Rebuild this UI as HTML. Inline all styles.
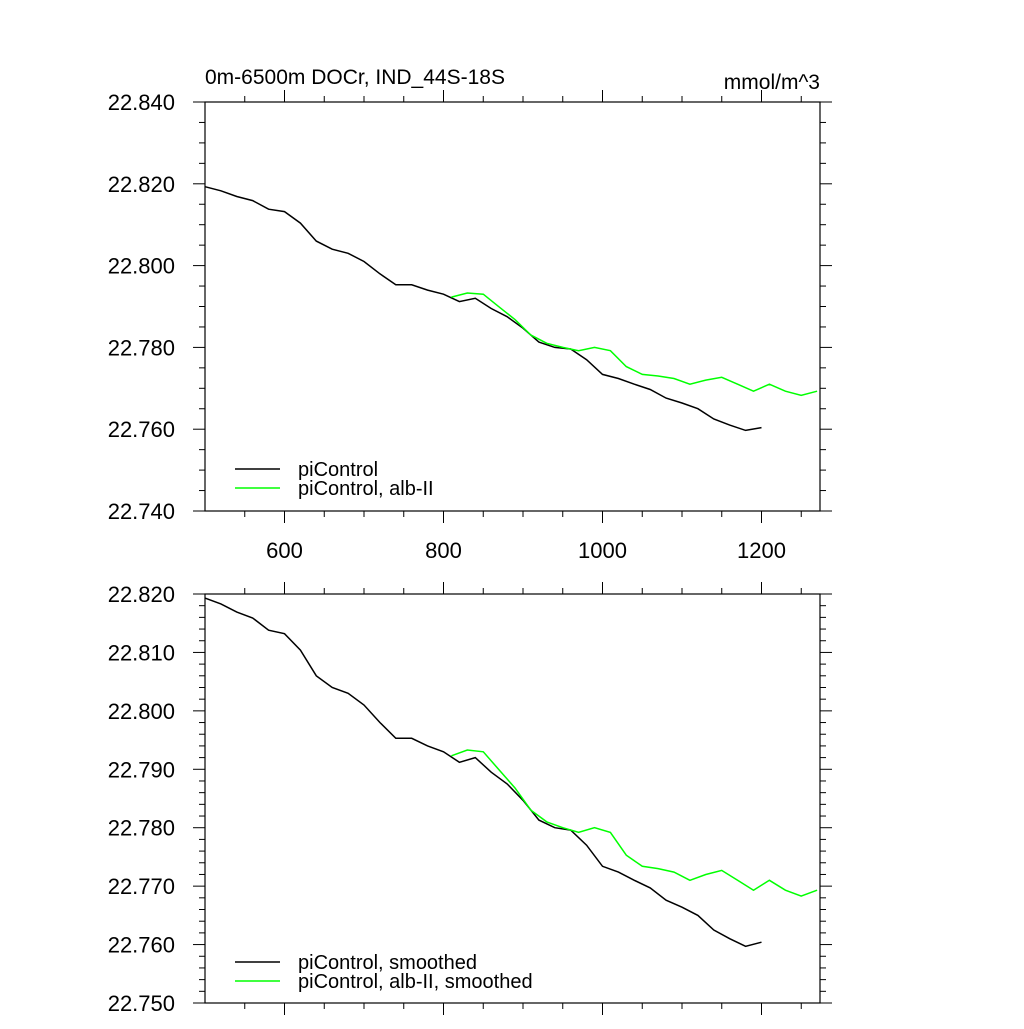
<!DOCTYPE html>
<html><head><meta charset="utf-8"><style>
body{margin:0;background:#fff;width:1024px;height:1024px;overflow:hidden}
svg{font-family:"Liberation Sans",sans-serif}
</style></head><body>
<svg id="chart" width="1024" height="1024" xmlns="http://www.w3.org/2000/svg">
<text x="205" y="84" font-size="21">0m-6500m DOCr, IND_44S-18S</text>
<text x="820" y="89" font-size="21" text-anchor="end">mmol/m^3</text>
</svg>
<script>
const blackYears=[500,520,540,560,580,600,620,640,660,680,700,720,740,760,780,800,820,840,860,880,900,920,940,960,980,1000,1020,1040,1060,1080,1100,1120,1140,1160,1180,1200];
const blackVals=[22.8193,22.8183,22.8169,22.8159,22.8138,22.8132,22.8104,22.806,22.804,22.803,22.801,22.798,22.7953,22.7953,22.794,22.793,22.7912,22.792,22.7895,22.7875,22.7847,22.7813,22.780,22.7796,22.777,22.7734,22.7724,22.771,22.7697,22.7676,22.7664,22.765,22.7625,22.761,22.7597,22.7604];
const greenYears=[810,830,850,870,890,910,930,950,970,990,1010,1030,1050,1070,1090,1110,1130,1150,1170,1190,1210,1230,1250,1270];
const greenVals=[22.7923,22.7933,22.793,22.7899,22.7868,22.783,22.781,22.780,22.7792,22.780,22.7792,22.7753,22.7734,22.773,22.7724,22.771,22.772,22.7727,22.771,22.7693,22.771,22.7693,22.7683,22.7693];
const topYTicks=["22.740","22.760","22.780","22.800","22.820","22.840"];
const botYTicks=["22.750","22.760","22.770","22.780","22.790","22.800","22.810","22.820"];
const xTicks=[600,800,1000,1200];

const NS="http://www.w3.org/2000/svg";
const svg=document.getElementById('chart');
function mk(t,a,p){const e=document.createElementNS(NS,t);for(const k in a)e.setAttribute(k,a[k]);(p||svg).appendChild(e);return e;}
const X0=205,X1=820,xmin=500,xmax=500+615/0.795;
const xs=v=>X0+(v-xmin)/(xmax-xmin)*(X1-X0);

function panel(name,Y0,Y1,ymin,ymax,yt,ymStep,showX,legendY,labels){
  const g=mk('g',{});
  
  
  const ys=v=>Y1-(v-ymin)/(ymax-ymin)*(Y1-Y0);
  mk('rect',{x:X0,y:Y0,width:X1-X0,height:Y1-Y0,fill:'none',stroke:'#000','stroke-width':1.2},g);
  const n=Math.round((ymax-ymin)/ymStep);
  for(let i=0;i<=n;i++){const v=ymin+i*ymStep,y=ys(v);
    const maj=yt.some(t=>Math.abs(+t-v)<1e-6);const L=maj?12:6;
    mk('line',{x1:X0-L,x2:X0,y1:y,y2:y,stroke:'#000'},g);
    mk('line',{x1:X1,x2:X1+L,y1:y,y2:y,stroke:'#000'},g);}
  yt.forEach(t=>{const e=mk('text',{x:175,y:ys(+t)+8,'font-size':22,'text-anchor':'end'},g);e.textContent=t;
    
    });
  for(let v=550;v<=xmax;v+=50){const x=xs(v),maj=v%200===0;const L=maj?12:6;
    mk('line',{x1:x,x2:x,y1:Y1,y2:Y1+L,stroke:'#000'},g);
    mk('line',{x1:x,x2:x,y1:Y0-L,y2:Y0,stroke:'#000'},g);}
  if(showX)xTicks.forEach(t=>{const e=mk('text',{x:xs(t),y:Y1+47,'font-size':22,'text-anchor':'middle'},g);e.textContent=t;
    
    });
  const line=(yrs,vals,c,nm)=>{const p=mk('path',{d:yrs.map((yr,i)=>(i?'L':'M')+xs(yr).toFixed(1)+','+ys(vals[i]).toFixed(1)).join(''),fill:'none',stroke:c,'stroke-width':1.5},g);
    
    };
  line(blackYears,blackVals,'#000','picontrol-line');
  line(greenYears,greenVals,'#00ff00','picontrol-alb-ii-line');
  [['#000',labels[0]],['#00ff00',labels[1]]].forEach((d,i)=>{const y=legendY+i*19;
    mk('line',{x1:235,x2:280,y1:y,y2:y,stroke:d[0],'stroke-width':1.5},g);
    const e=mk('text',{x:298,y:y+7,'font-size':20},g);e.textContent=d[1];
    
    });
}
panel('top-panel',102,511,22.740,22.840,topYTicks,0.005,true,469,['piControl','piControl, alb-II']);
panel('bottom-panel',594,1003,22.750,22.820,botYTicks,0.002,false,962,['piControl, smoothed','piControl, alb-II, smoothed']);
</script>
</body></html>
